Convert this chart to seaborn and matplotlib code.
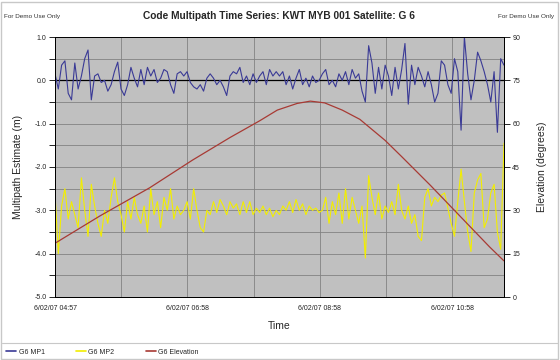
import numpy as np
import pandas as pd
import seaborn as sns
import matplotlib.pyplot as plt
from matplotlib.lines import Line2D
from matplotlib.patches import Rectangle


# minutes after 6/02/07 04:57, one sample every 3 minutes
minutes = list(range(0, 409, 3))

# G6 MP1 multipath estimate (m)
mp1 = [0.15, -0.2, 0.35, 0.45, -0.3, -0.45, 0.4, -0.2, 0.1, 0.5,
       0.7, -0.45, 0.1, 0.15, -0.05, 0.0, -0.25, -0.1, 0.2, 0.42,
       -0.2, -0.35, -0.1, 0.3, 0.05, -0.15, 0.25, -0.1, 0.3, 0.1,
       0.25, -0.05, 0.05, 0.25, 0.2, -0.1, -0.3, 0.15, 0.2, 0.1,
       0.2, -0.05, -0.15, -0.2, -0.1, -0.25, 0.05, 0.15, 0.05, -0.1,
       0.0, -0.15, -0.35, 0.1, 0.2, 0.15, 0.3, -0.05, 0.1, -0.1,
       0.15, -0.05, 0.1, 0.2, -0.1, 0.25, 0.1, 0.2, 0.1, 0.2,
       -0.1, 0.1, -0.2, 0.05, 0.25, -0.1, 0.05, -0.15, 0.1, -0.05,
       0.0, 0.15, 0.25, -0.1, 0.0, -0.15, 0.15, 0.0, 0.2, -0.1,
       0.25, 0.05, 0.15, -0.25, -0.5, 0.8, 0.4, -0.3, 0.3, -0.2,
       0.35, 0.1, -0.35, 0.3, -0.2, 0.25, 0.85, -0.55, 0.35, -0.1, 0.3,
       0.1, -0.15, 0.2, -0.1, -0.5, -0.3, 0.45, 0.35, -0.1, -0.3,
       0.5, 0.2, -1.15, 1.0, 0.15, -0.45, 0.0, 0.65, 0.45, 0.2,
       -0.1, -0.5, 0.2, -1.2, 0.5, 0.35]

# G6 MP2 multipath estimate (m)
mp2 = [-2.6, -4.0, -2.9, -2.5, -3.2, -2.8, -3.1, -3.4, -2.25, -3.0,
       -3.6, -2.4, -2.9, -3.3, -3.6, -3.0, -3.3, -2.7, -2.25, -2.8,
       -3.1, -3.5, -2.8, -3.2, -2.7, -3.1, -3.3, -2.9, -3.5, -2.5,
       -3.1, -2.8, -3.4, -2.7, -3.0, -2.5, -3.2, -2.9, -3.1, -3.0,
       -2.8, -3.2, -2.5, -3.0, -3.4, -3.5, -3.0, -3.1, -2.8, -3.05,
       -2.75, -2.9, -3.1, -2.8, -2.95, -2.85, -3.1, -2.8, -3.05, -2.8,
       -3.1, -2.95, -3.05, -2.9, -3.1, -2.95, -3.15, -3.0, -3.1, -2.9,
       -3.0, -2.8, -3.05, -2.75, -3.0, -2.85, -3.1, -2.9, -3.0, -2.95,
       -3.05, -3.0, -2.7, -3.3, -2.8, -3.1, -2.6, -3.3, -2.5, -3.2,
       -2.7, -3.0, -3.3, -2.9, -4.1, -2.2, -2.7, -3.1, -2.6, -3.2,
       -2.9, -3.05, -2.8, -3.1, -2.4, -3.0, -3.2, -2.9, -3.3, -3.1, -3.6,
       -3.7, -2.7, -2.5, -2.9, -2.7, -2.8, -2.65, -2.6, -2.95, -3.3,
       -3.6, -2.8, -2.05, -2.8, -3.5, -3.95, -2.6, -2.3, -2.15, -3.4,
       -3.2, -2.6, -2.4, -3.5, -3.9, -1.45]

# G6 elevation (degrees)
elev_minutes = [0, 41, 86, 125, 159, 186, 202, 220, 232, 245, 261, 277,
                300, 315, 341, 368, 395, 408]
elev_deg = [18.6, 28.1, 37.8, 47.4, 55.2, 61.0, 64.7, 67.0, 67.8, 67.2,
            64.7, 61.5, 54.2, 48.6, 38.7, 28.0, 17.3, 12.5]

time_labels = ["6/02/07 04:57", "", "6/02/07 06:58", "",
               "6/02/07 08:58", "", "6/02/07 10:58"]

BLUE, YELLOW, RED = "#3a3a96", "#f2ee00", "#a83a34"

sns.set_theme(style="white")
plt.rcParams['font.family'] = ['Liberation Sans', 'DejaVu Sans']

fig = plt.figure(figsize=(5.6, 3.6), dpi=100)
ax = fig.add_axes([55 / 560, 1 - 297 / 360, 449 / 560, 260 / 360])
ax.set_facecolor("#c0c0c0")

df = pd.DataFrame({"minutes": minutes, "mp1": mp1, "mp2": mp2})
sns.lineplot(data=df, x="minutes", y="mp1", ax=ax, color=BLUE, lw=0.8)
sns.lineplot(data=df, x="minutes", y="mp2", ax=ax, color=YELLOW, lw=0.8)
ax.axhline(0, color="black", lw=0.9, zorder=1.5)

ax.set_xlim(0, 408)
ax.set_ylim(-5, 1)
yt = np.arange(-5, 1.01, 0.5)
ax.set_yticks(yt)
ax.set_yticklabels([f"{v:.1f}" if v == int(v) else "" for v in yt])
xt = [i * 60.17 for i in range(len(time_labels))]
ax.set_xticks(xt)
ax.set_xticklabels(time_labels)
ax.grid(True, color="#828282", lw=0.6)
ax.set_axisbelow(True)

ax.set_xlabel("Time", fontsize=7.5, labelpad=6)
ax.set_ylabel("Multipath Estimate (m)", fontsize=7.5, labelpad=8)

ax2 = ax.twinx()
elev = pd.DataFrame({"minutes": elev_minutes, "deg": elev_deg})
sns.lineplot(data=elev, x="minutes", y="deg", ax=ax2, color=RED, lw=0.9)
ax2.set_ylim(0, 90)
ax2.set_yticks(range(0, 91, 15))
ax2.set_ylabel("Elevation (degrees)", fontsize=7.5, labelpad=12)

for a in (ax, ax2):
    a.tick_params(axis="both", direction="out", length=4, width=0.6,
                  color="black", labelsize=5, labelcolor="#222222", pad=2)
    for sp in a.spines.values():
        sp.set_color("black")
        sp.set_linewidth(0.7)
ax.spines["top"].set_color("#828282")

fig.text(0.498, 0.955, "Code Multipath Time Series: KWT MYB 001 Satellite: G 6",
         ha="center", va="center", fontsize=7.3, weight="bold")
fig.text(0.007, 0.955, "For Demo Use Only", ha="left", va="center",
         fontsize=4.6, color="#333333")
fig.text(0.99, 0.955, "For Demo Use Only", ha="right", va="center",
         fontsize=4.6, color="#333333")

# legend strip at the bottom
fig.add_artist(Line2D([0.004, 0.996], [1 - 343 / 360] * 2,
                      transform=fig.transFigure, color="#c8c8c8", lw=0.8))
handles = [Line2D([], [], color=c, lw=1.2) for c in (BLUE, YELLOW, RED)]
fig.legend(handles, ["G6 MP1", "G6 MP2", "G6 Elevation"], loc="center left",
           bbox_to_anchor=(0.0, 1 - 352 / 360), ncol=3, frameon=False,
           fontsize=5, handlelength=1.4, handletextpad=0.4, columnspacing=4.5)

fig.add_artist(Rectangle((0.002, 0.003), 0.994, 0.992, transform=fig.transFigure,
                         fill=False, edgecolor="#c8c8c8", lw=1))

fig.savefig("out.png", dpi=100)
